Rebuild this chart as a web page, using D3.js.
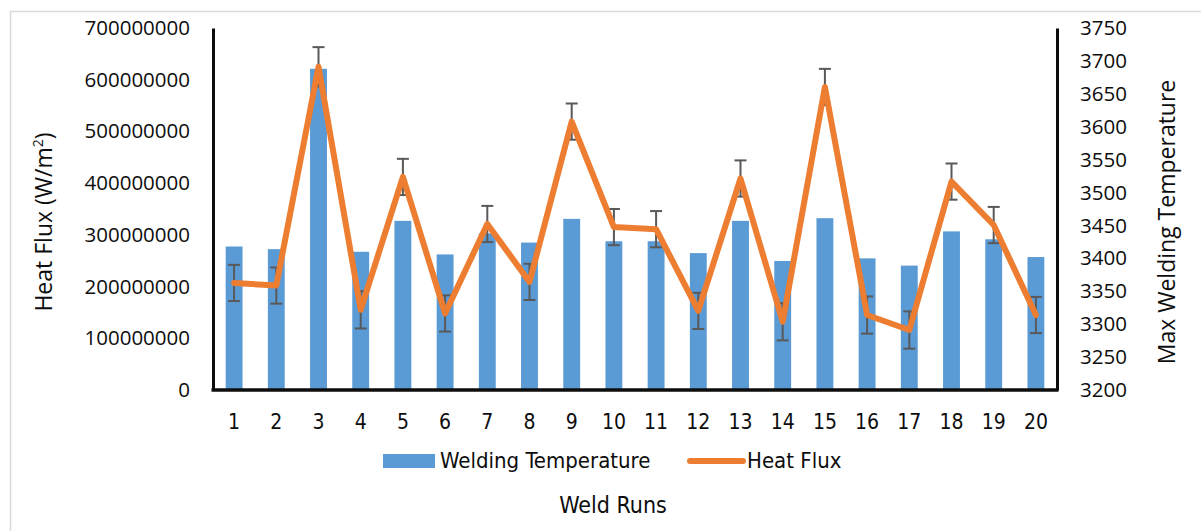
<!DOCTYPE html>
<html>
<head>
<meta charset="utf-8">
<script src="https://cdn.jsdelivr.net/npm/d3@7"></script>
<style>
  html, body { margin: 0; padding: 0; background: #fff; }
  svg { display: block; }
</style>
</head>
<body>
<svg id="chart" width="1201" height="531"></svg>
<script>
// ---- data ----
const categories = ["1","2","3","4","5","6","7","8","9","10","11","12","13","14","15","16","17","18","19","20"];
const weldingTemperature = [3418, 3414, 3688, 3410, 3457, 3406, 3438, 3424, 3460, 3426,
                            3426, 3408, 3457, 3396, 3461, 3400, 3389, 3441, 3429, 3402];
const heatFlux = [207e6, 202e6, 625e6, 155e6, 412e6, 148e6, 321e6, 209e6, 519e6, 315e6,
                  311e6, 153e6, 409e6, 132e6, 586e6, 145e6, 116e6, 403e6, 319e6, 145e6];
const heatFluxError = [35e6, 35e6, 38e6, 36e6, 35e6, 35e6, 35e6, 35e6, 35e6, 35e6,
                       35e6, 35e6, 35e6, 36e6, 35e6, 36e6, 36e6, 35e6, 35e6, 35e6];
const leftTicks = [0, 100000000, 200000000, 300000000, 400000000, 500000000, 600000000, 700000000];
const rightTicks = [3200, 3250, 3300, 3350, 3400, 3450, 3500, 3550, 3600, 3650, 3700, 3750];
const seriesNames = ["Welding Temperature", "Heat Flux"];

// ---- layout ----
const svg = d3.select("#chart");
const plotL = 213, plotR = 1057, plotT = 28, plotB = 390;
const wideFont = "'Open Sans', 'Noto Sans', sans-serif";
const narrowFont = "'Liberation Sans Narrow', 'DejaVu Sans Condensed', Roboto, sans-serif";

// outer chart border
svg.append("rect")
  .attr("x", 10.5).attr("y", 11.5).attr("width", 1200).attr("height", 530)
  .attr("fill", "none").attr("stroke", "#d9d9d9").attr("stroke-width", 1.5);

const x = d3.scaleBand().domain(categories).range([plotL, plotR])
  .paddingInner(0.6).paddingOuter(0.3);
const yL = d3.scaleLinear().domain([0, 700000000]).range([plotB, plotT]);
const yR = d3.scaleLinear().domain([3200, 3750]).range([plotB, plotT]);

// bars (welding temperature, right axis)
svg.append("g").selectAll("rect")
  .data(categories)
  .join("rect")
  .attr("x", (d) => x(d))
  .attr("width", x.bandwidth())
  .attr("y", (d, i) => yR(weldingTemperature[i]))
  .attr("height", (d, i) => plotB - yR(weldingTemperature[i]))
  .attr("fill", "#5b9bd5");

// error bars
const eb = svg.append("g").attr("stroke", "#595959").attr("stroke-width", 2);
categories.forEach((c, i) => {
  const cx = x(c) + x.bandwidth() / 2;
  const top = yL(heatFlux[i] + heatFluxError[i]);
  const bot = yL(heatFlux[i] - heatFluxError[i]);
  eb.append("line").attr("x1", cx).attr("x2", cx).attr("y1", top).attr("y2", bot);
  eb.append("line").attr("x1", cx - 6).attr("x2", cx + 6).attr("y1", top).attr("y2", top);
  eb.append("line").attr("x1", cx - 6).attr("x2", cx + 6).attr("y1", bot).attr("y2", bot);
});

// line (heat flux, left axis)
const line = d3.line()
  .x((d, i) => x(categories[i]) + x.bandwidth() / 2)
  .y((d) => yL(d));
svg.append("path")
  .datum(heatFlux)
  .attr("d", line)
  .attr("fill", "none")
  .attr("stroke", "#ed7d31")
  .attr("stroke-width", 6)
  .attr("stroke-linejoin", "round")
  .attr("stroke-linecap", "round");

// axes
const axL = svg.append("g").attr("transform", `translate(${plotL},0)`)
  .call(d3.axisLeft(yL).tickValues(leftTicks).tickFormat(d3.format("d")).tickSize(0).tickSizeOuter(0).tickPadding(23));
const axR = svg.append("g").attr("transform", `translate(${plotR},0)`)
  .call(d3.axisRight(yR).tickValues(rightTicks).tickFormat(d3.format("d")).tickSize(0).tickSizeOuter(0).tickPadding(23));
const axB = svg.append("g").attr("transform", `translate(0,${plotB})`)
  .call(d3.axisBottom(x).tickSize(0).tickSizeOuter(0).tickPadding(24));

[axL, axR].forEach(a => {
  a.select(".domain").attr("stroke", "#0d0d0d").attr("stroke-width", 3);
  a.selectAll("text").attr("font-family", wideFont).attr("font-size", 20.5).attr("fill", "#0d0d0d");
});
axB.select(".domain").attr("stroke", "#0d0d0d").attr("stroke-width", 3.5)
  .attr("d", `M${plotL - 1.5},0H${plotR + 1.5}`);
axB.selectAll("text").attr("font-family", narrowFont).attr("font-size", 21).attr("fill", "#0d0d0d");

// axis titles
svg.append("text")
  .attr("transform", `translate(52,222) rotate(-90)`)
  .attr("text-anchor", "middle")
  .attr("font-family", wideFont).attr("font-size", 23).attr("fill", "#0d0d0d")
  .html("Heat Flux (W/m<tspan baseline-shift='super' font-size='14'>2</tspan>)");
svg.append("text")
  .attr("transform", `translate(1175,222) rotate(-90)`)
  .attr("text-anchor", "middle")
  .attr("font-family", wideFont).attr("font-size", 23).attr("fill", "#0d0d0d")
  .text("Max Welding Temperature");
svg.append("text")
  .attr("x", 613).attr("y", 513)
  .attr("text-anchor", "middle")
  .attr("font-family", narrowFont).attr("font-size", 23).attr("fill", "#0d0d0d")
  .text("Weld Runs");

// legend
const lg = svg.append("g");
lg.append("rect").attr("x", 383).attr("y", 454).attr("width", 52).attr("height", 14).attr("fill", "#5b9bd5");
lg.append("text").attr("x", 440).attr("y", 467.5)
  .attr("font-family", narrowFont).attr("font-size", 22).attr("fill", "#0d0d0d")
  .text(seriesNames[0]);
lg.append("line").attr("x1", 690).attr("x2", 743).attr("y1", 461).attr("y2", 461)
  .attr("stroke", "#ed7d31").attr("stroke-width", 6).attr("stroke-linecap", "round");
lg.append("text").attr("x", 747).attr("y", 467.5)
  .attr("font-family", narrowFont).attr("font-size", 22).attr("fill", "#0d0d0d")
  .text(seriesNames[1]);
</script>
</body>
</html>
